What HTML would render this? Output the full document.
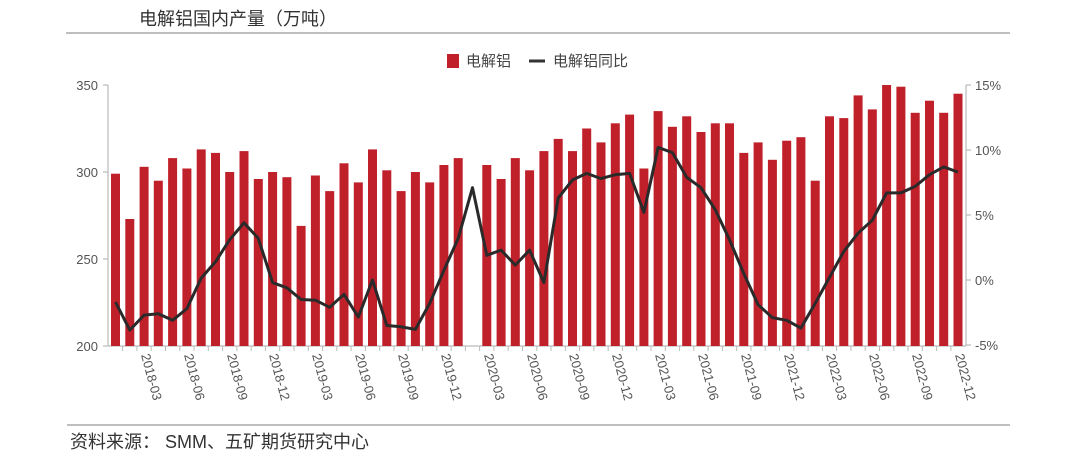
<!DOCTYPE html>
<html><head><meta charset="utf-8"><style>
html,body{margin:0;padding:0;background:#fff;}
svg{display:block;font-family:"Liberation Sans","Noto Sans CJK SC",sans-serif;}
</style></head><body>
<svg width="1080" height="462" viewBox="0 0 1080 462" xmlns="http://www.w3.org/2000/svg">
<text x="139" y="25" font-size="18" fill="#333">电解铝国内产量（万吨）</text>
<line x1="66" y1="33" x2="1010" y2="33" stroke="#aaa" stroke-width="1.5"/>
<rect x="447" y="54" width="12" height="14" fill="#c0202a"/>
<text x="466" y="66" font-size="15" fill="#444">电解铝</text>
<line x1="529" y1="61" x2="545" y2="61" stroke="#333" stroke-width="3"/>
<text x="553" y="66" font-size="15" fill="#444">电解铝同比</text>
<g stroke="#bbb" stroke-width="1.2">
<line x1="108" y1="85" x2="108" y2="346"/>
<line x1="966" y1="85" x2="966" y2="346"/>
<line x1="108" y1="346" x2="966" y2="346"/>
<line x1="103" y1="85" x2="108" y2="85"/><line x1="103" y1="172" x2="108" y2="172"/><line x1="103" y1="259" x2="108" y2="259"/><line x1="103" y1="346" x2="108" y2="346"/>
<line x1="966" y1="85" x2="971" y2="85"/><line x1="966" y1="150" x2="971" y2="150"/><line x1="966" y1="215" x2="971" y2="215"/><line x1="966" y1="280" x2="971" y2="280"/><line x1="966" y1="345" x2="971" y2="345"/>
</g>
<g stroke="#bbb" stroke-width="1">
<line x1="122.6" y1="346" x2="122.6" y2="351"/><line x1="136.9" y1="346" x2="136.9" y2="351"/><line x1="151.2" y1="346" x2="151.2" y2="351"/><line x1="165.5" y1="346" x2="165.5" y2="351"/><line x1="179.8" y1="346" x2="179.8" y2="351"/><line x1="194" y1="346" x2="194" y2="351"/><line x1="208.3" y1="346" x2="208.3" y2="351"/><line x1="222.6" y1="346" x2="222.6" y2="351"/><line x1="236.9" y1="346" x2="236.9" y2="351"/><line x1="251.2" y1="346" x2="251.2" y2="351"/><line x1="265.4" y1="346" x2="265.4" y2="351"/><line x1="279.7" y1="346" x2="279.7" y2="351"/><line x1="294" y1="346" x2="294" y2="351"/><line x1="308.3" y1="346" x2="308.3" y2="351"/><line x1="322.6" y1="346" x2="322.6" y2="351"/><line x1="336.8" y1="346" x2="336.8" y2="351"/><line x1="351.1" y1="346" x2="351.1" y2="351"/><line x1="365.4" y1="346" x2="365.4" y2="351"/><line x1="379.7" y1="346" x2="379.7" y2="351"/><line x1="394" y1="346" x2="394" y2="351"/><line x1="408.2" y1="346" x2="408.2" y2="351"/><line x1="422.5" y1="346" x2="422.5" y2="351"/><line x1="436.8" y1="346" x2="436.8" y2="351"/><line x1="451.1" y1="346" x2="451.1" y2="351"/><line x1="465.4" y1="346" x2="465.4" y2="351"/><line x1="479.6" y1="346" x2="479.6" y2="351"/><line x1="493.9" y1="346" x2="493.9" y2="351"/><line x1="508.2" y1="346" x2="508.2" y2="351"/><line x1="522.5" y1="346" x2="522.5" y2="351"/><line x1="536.8" y1="346" x2="536.8" y2="351"/><line x1="551" y1="346" x2="551" y2="351"/><line x1="565.3" y1="346" x2="565.3" y2="351"/><line x1="579.6" y1="346" x2="579.6" y2="351"/><line x1="593.9" y1="346" x2="593.9" y2="351"/><line x1="608.2" y1="346" x2="608.2" y2="351"/><line x1="622.4" y1="346" x2="622.4" y2="351"/><line x1="636.7" y1="346" x2="636.7" y2="351"/><line x1="651" y1="346" x2="651" y2="351"/><line x1="665.3" y1="346" x2="665.3" y2="351"/><line x1="679.6" y1="346" x2="679.6" y2="351"/><line x1="693.8" y1="346" x2="693.8" y2="351"/><line x1="708.1" y1="346" x2="708.1" y2="351"/><line x1="722.4" y1="346" x2="722.4" y2="351"/><line x1="736.7" y1="346" x2="736.7" y2="351"/><line x1="751" y1="346" x2="751" y2="351"/><line x1="765.2" y1="346" x2="765.2" y2="351"/><line x1="779.5" y1="346" x2="779.5" y2="351"/><line x1="793.8" y1="346" x2="793.8" y2="351"/><line x1="808.1" y1="346" x2="808.1" y2="351"/><line x1="822.4" y1="346" x2="822.4" y2="351"/><line x1="836.6" y1="346" x2="836.6" y2="351"/><line x1="850.9" y1="346" x2="850.9" y2="351"/><line x1="865.2" y1="346" x2="865.2" y2="351"/><line x1="879.5" y1="346" x2="879.5" y2="351"/><line x1="893.8" y1="346" x2="893.8" y2="351"/><line x1="908" y1="346" x2="908" y2="351"/><line x1="922.3" y1="346" x2="922.3" y2="351"/><line x1="936.6" y1="346" x2="936.6" y2="351"/><line x1="950.9" y1="346" x2="950.9" y2="351"/>
</g>
<g font-size="13" fill="#555" text-anchor="end">
<text x="98" y="90">350</text><text x="98" y="177">300</text><text x="98" y="264">250</text><text x="98" y="351">200</text>
</g>
<g font-size="13" fill="#555">
<text x="975" y="90">15%</text><text x="975" y="155">10%</text><text x="975" y="220">5%</text><text x="975" y="285">0%</text><text x="975" y="350">-5%</text>
</g>
<g fill="#c0202a">
<rect x="111" y="173.7" width="9" height="172.3"/>
<rect x="125.3" y="219" width="9" height="127"/>
<rect x="139.6" y="166.8" width="9" height="179.2"/>
<rect x="153.8" y="180.7" width="9" height="165.3"/>
<rect x="168.1" y="158.1" width="9" height="187.9"/>
<rect x="182.4" y="168.5" width="9" height="177.5"/>
<rect x="196.7" y="149.4" width="9" height="196.6"/>
<rect x="211" y="152.9" width="9" height="193.1"/>
<rect x="225.2" y="172" width="9" height="174"/>
<rect x="239.5" y="151.1" width="9" height="194.9"/>
<rect x="253.8" y="179" width="9" height="167"/>
<rect x="268.1" y="172" width="9" height="174"/>
<rect x="282.4" y="177.2" width="9" height="168.8"/>
<rect x="296.6" y="225.9" width="9" height="120.1"/>
<rect x="310.9" y="175.5" width="9" height="170.5"/>
<rect x="325.2" y="191.1" width="9" height="154.9"/>
<rect x="339.5" y="163.3" width="9" height="182.7"/>
<rect x="353.8" y="182.4" width="9" height="163.6"/>
<rect x="368" y="149.4" width="9" height="196.6"/>
<rect x="382.3" y="170.3" width="9" height="175.7"/>
<rect x="396.6" y="191.1" width="9" height="154.9"/>
<rect x="410.9" y="172" width="9" height="174"/>
<rect x="425.2" y="182.4" width="9" height="163.6"/>
<rect x="439.4" y="165" width="9" height="181"/>
<rect x="453.7" y="158.1" width="9" height="187.9"/>
<rect x="482.3" y="165" width="9" height="181"/>
<rect x="496.6" y="179" width="9" height="167"/>
<rect x="510.8" y="158.1" width="9" height="187.9"/>
<rect x="525.1" y="170.3" width="9" height="175.7"/>
<rect x="539.4" y="151.1" width="9" height="194.9"/>
<rect x="553.7" y="138.9" width="9" height="207.1"/>
<rect x="568" y="151.1" width="9" height="194.9"/>
<rect x="582.2" y="128.5" width="9" height="217.5"/>
<rect x="596.5" y="142.4" width="9" height="203.6"/>
<rect x="610.8" y="123.3" width="9" height="222.7"/>
<rect x="625.1" y="114.6" width="9" height="231.4"/>
<rect x="639.4" y="168.5" width="9" height="177.5"/>
<rect x="653.6" y="111.1" width="9" height="234.9"/>
<rect x="667.9" y="126.8" width="9" height="219.2"/>
<rect x="682.2" y="116.3" width="9" height="229.7"/>
<rect x="696.5" y="132" width="9" height="214"/>
<rect x="710.8" y="123.3" width="9" height="222.7"/>
<rect x="725" y="123.3" width="9" height="222.7"/>
<rect x="739.3" y="152.9" width="9" height="193.1"/>
<rect x="753.6" y="142.4" width="9" height="203.6"/>
<rect x="767.9" y="159.8" width="9" height="186.2"/>
<rect x="782.2" y="140.7" width="9" height="205.3"/>
<rect x="796.4" y="137.2" width="9" height="208.8"/>
<rect x="810.7" y="180.7" width="9" height="165.3"/>
<rect x="825" y="116.3" width="9" height="229.7"/>
<rect x="839.3" y="118.1" width="9" height="227.9"/>
<rect x="853.6" y="95.4" width="9" height="250.6"/>
<rect x="867.8" y="109.4" width="9" height="236.6"/>
<rect x="882.1" y="85" width="9" height="261"/>
<rect x="896.4" y="86.7" width="9" height="259.3"/>
<rect x="910.7" y="112.8" width="9" height="233.2"/>
<rect x="925" y="100.7" width="9" height="245.3"/>
<rect x="939.2" y="112.8" width="9" height="233.2"/>
<rect x="953.5" y="93.7" width="9" height="252.3"/>
</g>
<polyline fill="none" stroke="#2a2a2a" stroke-width="3" stroke-linejoin="round" points="115.5,302 129.8,330.1 144.1,315.1 158.3,313.8 172.6,320.3 186.9,308.6 201.2,278.1 215.5,261.8 229.7,239.7 244,222.8 258.3,238.4 272.6,282.6 286.9,287.8 301.1,299.5 315.4,300.2 329.7,307.3 344,294.3 358.3,317.1 372.5,280 386.8,325.5 401.1,326.8 415.4,329.4 429.7,303.4 443.9,270.3 458.2,238.4 472.5,187.7 486.8,255.3 501.1,250.1 515.3,265.1 529.6,250.1 543.9,282.6 558.2,198.1 572.5,179.9 586.7,173.4 601,178.6 615.3,174.7 629.6,173.4 643.9,212.4 658.1,147.4 672.4,152.6 686.7,177.3 701,187.7 715.3,209.8 729.5,239.7 743.8,273.5 758.1,304.7 772.4,317.7 786.7,320.3 800.9,328.1 815.2,303.4 829.5,277.4 843.8,251.4 858.1,233.2 872.3,220.2 886.6,192.9 900.9,192.9 915.2,186.4 929.5,174.7 943.7,166.9 958,172.1"/>
<g font-size="13" fill="#555">
<text transform="translate(141,355) rotate(75)">2018-03</text>
<text transform="translate(184,355) rotate(75)">2018-06</text>
<text transform="translate(227,355) rotate(75)">2018-09</text>
<text transform="translate(269,355) rotate(75)">2018-12</text>
<text transform="translate(312,355) rotate(75)">2019-03</text>
<text transform="translate(355,355) rotate(75)">2019-06</text>
<text transform="translate(398,355) rotate(75)">2019-09</text>
<text transform="translate(441,355) rotate(75)">2019-12</text>
<text transform="translate(484,355) rotate(75)">2020-03</text>
<text transform="translate(527,355) rotate(75)">2020-06</text>
<text transform="translate(569,355) rotate(75)">2020-09</text>
<text transform="translate(612,355) rotate(75)">2020-12</text>
<text transform="translate(655,355) rotate(75)">2021-03</text>
<text transform="translate(698,355) rotate(75)">2021-06</text>
<text transform="translate(741,355) rotate(75)">2021-09</text>
<text transform="translate(784,355) rotate(75)">2021-12</text>
<text transform="translate(826,355) rotate(75)">2022-03</text>
<text transform="translate(869,355) rotate(75)">2022-06</text>
<text transform="translate(912,355) rotate(75)">2022-09</text>
<text transform="translate(955,355) rotate(75)">2022-12</text>
</g>
<line x1="67" y1="425" x2="1010" y2="425" stroke="#aaa" stroke-width="1.5"/>
<text x="70" y="448" font-size="18" fill="#333">资料来源：  SMM、五矿期货研究中心</text>
</svg>
</body></html>
